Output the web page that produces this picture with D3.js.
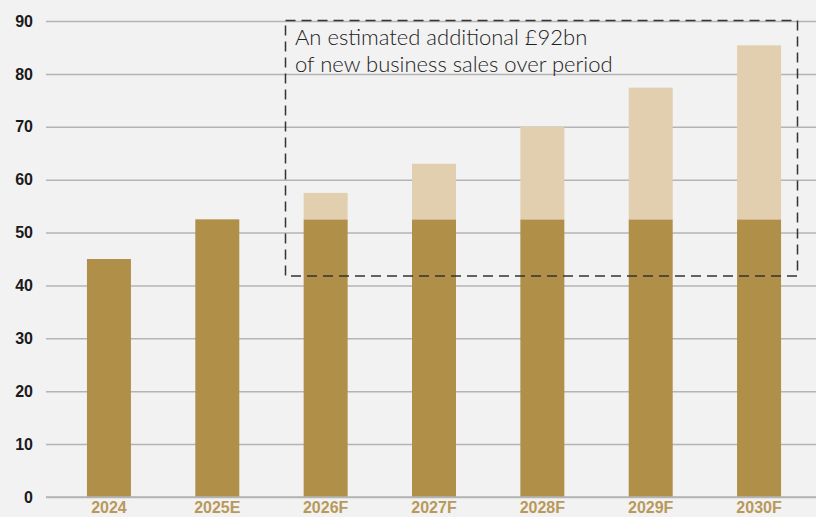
<!DOCTYPE html>
<html>
<head>
<meta charset="utf-8">
<script src="https://cdn.jsdelivr.net/npm/d3@7"></script>
<style>
  html, body { margin: 0; padding: 0; background: #f2f2f2; }
  svg { display: block; }
</style>
</head>
<body>
<svg id="chart" width="816" height="517"></svg>
<script>
// New business sales (£bn): existing base plus estimated additional sales
const years = ["2024", "2025E", "2026F", "2027F", "2028F", "2029F", "2030F"];
const baseSales = [45, 52.5, 52.5, 52.5, 52.5, 52.5, 52.5];
const additionalSales = [0, 0, 5.0, 10.5, 17.5, 24.9, 32.9];
const yTicks = [0, 10, 20, 30, 40, 50, 60, 70, 80, 90];
const noteLines = ["An estimated additional £92bn", "of new business sales over period"];

const svg = d3.select("#chart");
const W = 816, H = 517;

svg.append("rect").attr("width", W).attr("height", H).attr("fill", "#f2f2f2");

const y = d3.scaleLinear().domain([0, 90]).range([497, 21]);
const x = d3.scaleBand().domain(years).range([46, 822])
  .paddingInner(0.594).paddingOuter(0.378);

// horizontal gridlines with value labels
const yAxis = d3.axisLeft(y).tickValues(yTicks).tickSize(-(W - 46)).tickPadding(13);
const gy = svg.append("g").attr("transform", "translate(46,0)").call(yAxis);
gy.select(".domain").remove();
gy.selectAll(".tick line").attr("stroke", "#b4b4b4").attr("stroke-width", 1.5);
gy.selectAll(".tick text")
  .attr("fill", "#1a1a1a")
  .style("font-family", "'Liberation Sans', Arial, sans-serif")
  .style("font-weight", "bold")
  .style("font-size", "16px");

// stacked bars
const rows = years.map((yr, i) => ({ yr, base: baseSales[i], add: additionalSales[i] }));
const bars = svg.append("g");
bars.selectAll("rect.base").data(rows).join("rect")
  .attr("class", "base")
  .attr("x", d => x(d.yr))
  .attr("width", x.bandwidth())
  .attr("y", d => y(d.base))
  .attr("height", d => y(0) - y(d.base))
  .attr("fill", "#b08f48");
bars.selectAll("rect.add").data(rows.filter(d => d.add > 0)).join("rect")
  .attr("class", "add")
  .attr("x", d => x(d.yr))
  .attr("width", x.bandwidth())
  .attr("y", d => y(d.base + d.add))
  .attr("height", d => y(d.base) - y(d.base + d.add))
  .attr("fill", "#e1cfb0");

// baseline
svg.append("line")
  .attr("x1", 46).attr("x2", W)
  .attr("y1", y(0)).attr("y2", y(0))
  .attr("stroke", "#b4b4b4").attr("stroke-width", 1.5);

// category labels
const xAxis = d3.axisBottom(x).tickSize(0).tickPadding(5);
const gx = svg.append("g").attr("transform", `translate(0,${y(0)})`).call(xAxis);
gx.select(".domain").remove();
gx.selectAll(".tick text")
  .attr("fill", "#b8995a")
  .style("font-family", "'Liberation Sans', Arial, sans-serif")
  .style("font-weight", "bold")
  .style("font-size", "16px");

// dashed highlight box around forecast years
svg.append("rect")
  .attr("x", 285.5).attr("y", y(90) - 0.5)
  .attr("width", 512).attr("height", 255.5)
  .attr("fill", "none")
  .attr("stroke", "#333")
  .attr("stroke-width", 1.5)
  .attr("stroke-dasharray", "10,6");

const note = svg.append("text")
  .attr("x", 295)
  .attr("y", 45)
  .attr("fill", "#222")
  .style("font-family", "Lato, 'Open Sans', sans-serif")
  .style("font-weight", 300)
  .style("font-size", "22px");
note.selectAll("tspan").data(noteLines).join("tspan")
  .attr("x", 295)
  .attr("dy", (d, i) => i === 0 ? 0 : 27)
  .text(d => d);
</script>
</body>
</html>
